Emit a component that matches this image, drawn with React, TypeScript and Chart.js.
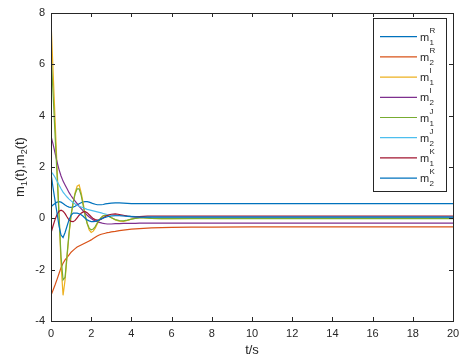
import React, { useEffect, useRef } from "react";
import { Chart, registerables } from "chart.js";

Chart.register(...registerables);

const times = [
  0, 0.1, 0.2, 0.3, 0.4, 0.5, 0.6, 0.7, 0.8, 0.9, 1.0, 1.1, 1.2, 1.3, 1.4, 1.5, 1.6, 1.7, 1.8, 1.9, 2.0,
  2.1, 2.2, 2.3, 2.4, 2.5, 2.6, 2.7, 2.8, 2.9, 3.0,
  3.2, 3.4, 3.6, 3.8, 4.0, 4.2, 4.4, 4.6, 4.8, 5.0,
  5.5, 6, 7, 8, 10, 12, 14, 16, 18, 20,
];

const m1R = [
  0.45, 0.52, 0.58, 0.63, 0.65, 0.63, 0.58, 0.52, 0.47, 0.44, 0.43, 0.44, 0.47, 0.52, 0.57, 0.61, 0.64, 0.65, 0.65, 0.63, 0.6,
  0.57, 0.55, 0.53, 0.53, 0.53, 0.54, 0.56, 0.57, 0.58, 0.59,
  0.6, 0.6, 0.59, 0.58, 0.57, 0.57, 0.57, 0.57, 0.57, 0.57,
  0.57, 0.57, 0.57, 0.57, 0.57, 0.57, 0.57, 0.57, 0.57, 0.57,
];
const m2R = [
  -3.0, -2.8, -2.6, -2.38, -2.15, -1.92, -1.75, -1.62, -1.52, -1.42, -1.32, -1.25, -1.18, -1.12, -1.08, -1.04, -1.0, -0.96, -0.92, -0.88, -0.84,
  -0.79, -0.74, -0.69, -0.65, -0.62, -0.6, -0.58, -0.56, -0.55, -0.53,
  -0.51, -0.48, -0.46, -0.44, -0.42, -0.41, -0.4, -0.39, -0.38, -0.37,
  -0.36, -0.35, -0.34, -0.34, -0.33, -0.33, -0.33, -0.33, -0.33, -0.33,
];
const m1I = [
  7.7, 5.8, 3.9, 2.0, 0.2, -1.8, -3.0, -2.4, -1.5, -0.6, 0.1, 0.6, 1.0, 1.25, 1.3, 1.0, 0.6, 0.15, -0.2, -0.45, -0.55,
  -0.5, -0.38, -0.22, -0.08, 0.03, 0.1, 0.13, 0.12, 0.08, 0.03,
  -0.06, -0.11, -0.12, -0.08, -0.03, 0.01, 0.03, 0.03, 0.02, 0.0,
  -0.01, -0.01, 0, 0, 0, 0, 0, 0, 0, 0,
];
const m2I = [
  3.2, 2.9, 2.55, 2.2, 1.9, 1.65, 1.45, 1.3, 1.15, 1.0, 0.88, 0.77, 0.67, 0.57, 0.47, 0.38, 0.29, 0.2, 0.12, 0.05, -0.01,
  -0.06, -0.1, -0.13, -0.16, -0.18, -0.2, -0.21, -0.22, -0.22, -0.22,
  -0.21, -0.21, -0.2, -0.2, -0.2, -0.2, -0.19, -0.19, -0.19, -0.19,
  -0.19, -0.19, -0.19, -0.19, -0.19, -0.19, -0.19, -0.19, -0.19, -0.19,
];
const m1J = [
  6.5, 4.9, 3.3, 1.7, 0.1, -1.5, -2.4, -2.3, -1.4, -0.55, 0.15, 0.6, 0.95, 1.15, 1.15, 0.9, 0.5, 0.1, -0.2, -0.38, -0.45,
  -0.42, -0.32, -0.18, -0.06, 0.04, 0.1, 0.12, 0.1, 0.06, 0.02,
  -0.05, -0.09, -0.1, -0.07, -0.03, 0.0, 0.02, 0.02, 0.01, 0.0,
  -0.01, -0.01, -0.01, -0.01, -0.01, -0.01, -0.01, -0.01, -0.01, -0.01,
];
const m2J = [
  1.82, 1.72, 1.6, 1.45, 1.3, 1.15, 1.02, 0.92, 0.83, 0.75, 0.68, 0.62, 0.56, 0.51, 0.47, 0.44, 0.41, 0.38, 0.35, 0.33, 0.31,
  0.29, 0.27, 0.25, 0.23, 0.21, 0.19, 0.17, 0.15, 0.14, 0.13,
  0.12, 0.11, 0.1, 0.09, 0.08, 0.07, 0.07, 0.06, 0.06, 0.06,
  0.06, 0.06, 0.06, 0.06, 0.06, 0.06, 0.06, 0.06, 0.06, 0.06,
];
const m1K = [
  -0.57, -0.3, -0.05, 0.15, 0.28, 0.32, 0.28, 0.18, 0.05, -0.07, -0.12, -0.13, -0.08, 0.02, 0.12, 0.2, 0.25, 0.26, 0.22, 0.14, 0.06,
  -0.01, -0.05, -0.07, -0.06, -0.03, 0.02, 0.07, 0.11, 0.14, 0.16,
  0.17, 0.15, 0.12, 0.09, 0.07, 0.06, 0.07, 0.08, 0.09, 0.09,
  0.09, 0.09, 0.09, 0.09, 0.09, 0.09, 0.09, 0.09, 0.09, 0.09,
];
const m2K = [
  1.75, 1.2, 0.7, 0.2, -0.3, -0.65, -0.75, -0.55, -0.3, -0.05, 0.12, 0.2, 0.2, 0.2, 0.18, 0.14, 0.08, 0.0, -0.06, -0.1, -0.13,
  -0.13, -0.12, -0.09, -0.06, -0.02, 0.01, 0.04, 0.06, 0.08, 0.09,
  0.1, 0.1, 0.09, 0.08, 0.07, 0.06, 0.05, 0.05, 0.05, 0.05,
  0.05, 0.05, 0.05, 0.05, 0.05, 0.05, 0.05, 0.05, 0.05, 0.05,
];

const seriesValues = [m1R, m2R, m1I, m2I, m1J, m2J, m1K, m2K];
const seriesSup = ["R", "R", "I", "I", "J", "J", "K", "K"];
const seriesSub = ["1", "2", "1", "2", "1", "2", "1", "2"];
const seriesColors = ["#0072BD", "#D95319", "#EDB120", "#7E2F8E", "#77AC30", "#4DBEEE", "#A2142F", "#0072BD"];

const xTicks = [0, 2, 4, 6, 8, 10, 12, 14, 16, 18, 20];
const yTicks = [-4, -2, 0, 2, 4, 6, 8];

const FONT = "'Liberation Sans', Arial, Helvetica, sans-serif";
const AXIS = "#262626";

const decorPlugin = {
  id: "decor",
  afterDatasetsDraw(chart: any) {
    const ctx = chart.ctx as CanvasRenderingContext2D;
    const { left, right, top, bottom } = chart.chartArea;
    const xs = chart.scales.x;
    const ys = chart.scales.y;
    ctx.save();
    // frame
    ctx.strokeStyle = AXIS;
    ctx.lineWidth = 1;
    ctx.strokeRect(Math.round(left) + 0.5, Math.round(top) + 0.5, Math.round(right - left), Math.round(bottom - top));
    // inward ticks on all sides
    ctx.beginPath();
    xTicks.forEach((v) => {
      const px = Math.round(xs.getPixelForValue(v)) + 0.5;
      ctx.moveTo(px, bottom);
      ctx.lineTo(px, bottom - 4);
      ctx.moveTo(px, top);
      ctx.lineTo(px, top + 4);
    });
    yTicks.forEach((v) => {
      const py = Math.round(ys.getPixelForValue(v)) + 0.5;
      ctx.moveTo(left, py);
      ctx.lineTo(left + 4, py);
      ctx.moveTo(right, py);
      ctx.lineTo(right - 4, py);
    });
    ctx.stroke();

    // legend
    const lx0 = 373, lx1 = 446, ly0 = 18, ly1 = 191;
    ctx.fillStyle = "#ffffff";
    ctx.fillRect(lx0, ly0, lx1 - lx0, ly1 - ly0);
    ctx.strokeStyle = AXIS;
    ctx.strokeRect(lx0 + 0.5, ly0 + 0.5, lx1 - lx0, ly1 - ly0);
    seriesColors.forEach((c, i) => {
      const y = 36.7 + i * 20.2;
      ctx.strokeStyle = c;
      ctx.lineWidth = 1.2;
      ctx.beginPath();
      ctx.moveTo(380, y);
      ctx.lineTo(417, y);
      ctx.stroke();
      ctx.fillStyle = AXIS;
      ctx.textAlign = "left";
      ctx.textBaseline = "alphabetic";
      ctx.font = `11px ${FONT}`;
      ctx.fillText("m", 420, y + 4);
      const mw = ctx.measureText("m").width;
      ctx.font = `8px ${FONT}`;
      ctx.fillText(seriesSup[i], 420 + mw + 0.3, y - 4);
      ctx.fillText(seriesSub[i], 420 + mw + 0.3, y + 8);
    });

    // x title
    ctx.fillStyle = AXIS;
    ctx.font = `13px ${FONT}`;
    ctx.textAlign = "center";
    ctx.textBaseline = "middle";
    ctx.fillText("t/s", (left + right) / 2, 350);

    // y title with subscripts
    const parts = [
      { t: "m", s: false },
      { t: "1", s: true },
      { t: "(t),m", s: false },
      { t: "2", s: true },
      { t: "(t)", s: false },
    ];
    const mainFont = `13px ${FONT}`;
    const subFont = `9px ${FONT}`;
    let total = 0;
    parts.forEach((p) => {
      ctx.font = p.s ? subFont : mainFont;
      total += ctx.measureText(p.t).width;
    });
    ctx.translate(19, 167);
    ctx.rotate(-Math.PI / 2);
    ctx.textAlign = "left";
    ctx.textBaseline = "alphabetic";
    let x = -total / 2;
    parts.forEach((p) => {
      ctx.font = p.s ? subFont : mainFont;
      ctx.fillText(p.t, x, p.s ? 7.5 : 4.5);
      x += ctx.measureText(p.t).width;
    });
    ctx.restore();
  },
};

export default function App() {
  const ref = useRef<HTMLCanvasElement | null>(null);
  useEffect(() => {
    if (!ref.current) return;
    const datasets = seriesValues.map((vals, i) => ({
      label: `m${seriesSub[i]}${seriesSup[i]}`,
      data: times.map((t, k) => ({ x: t, y: vals[k] })),
      borderColor: seriesColors[i],
      backgroundColor: seriesColors[i],
      borderWidth: 1.2,
      pointRadius: 0,
      tension: 0,
      fill: false,
      order: 8 - i,
    }));
    const chart = new Chart(ref.current, {
      type: "line",
      data: { datasets },
      options: {
        responsive: false,
        animation: false,
        devicePixelRatio: 1,
        layout: { padding: { left: 0, top: 13, right: 18, bottom: 0 } },
        plugins: { legend: { display: false }, tooltip: { enabled: false } },
        scales: {
          x: {
            type: "linear",
            min: 0,
            max: 20,
            afterBuildTicks: (s: any) => {
              s.ticks = xTicks.map((v) => ({ value: v }));
            },
            afterFit: (s: any) => {
              s.height = 41;
            },
            ticks: { color: AXIS, font: { size: 11, family: FONT }, padding: 6, maxRotation: 0, autoSkip: false },
            grid: { display: false, drawTicks: false },
            border: { display: false },
          },
          y: {
            type: "linear",
            min: -4,
            max: 8,
            afterBuildTicks: (s: any) => {
              s.ticks = yTicks.map((v) => ({ value: v }));
            },
            afterFit: (s: any) => {
              s.width = 51;
            },
            ticks: { color: AXIS, font: { size: 11, family: FONT }, padding: 6, autoSkip: false },
            grid: { display: false, drawTicks: false },
            border: { display: false },
          },
        },
      },
      plugins: [decorPlugin],
    });
    return () => chart.destroy();
  }, []);
  return (
    <div style={{ position: "absolute", left: 0, top: 0, width: 471, height: 362, background: "#fff" }}>
      <canvas ref={ref} width={471} height={362} style={{ display: "block", width: 471, height: 362 }} />
    </div>
  );
}
